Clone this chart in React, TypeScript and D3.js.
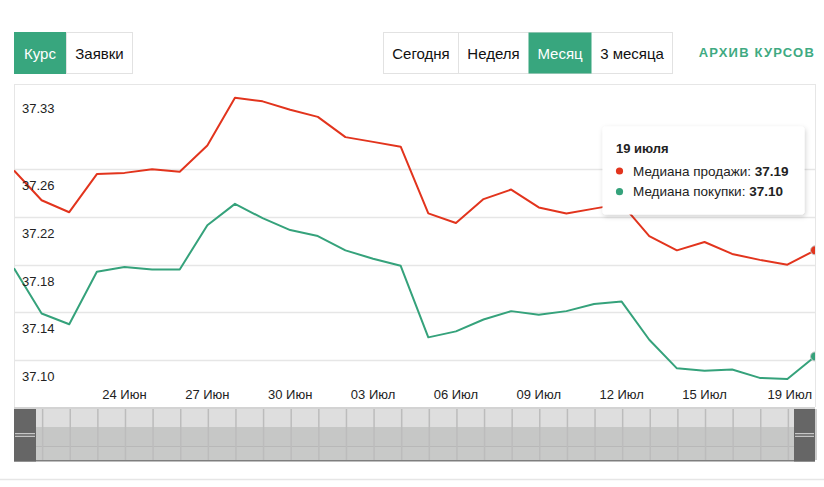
import React from "react";
import * as d3 from "d3";

// ---- Data ----
const startDate = new Date(2024, 5, 20);
const endDate = new Date(2024, 6, 19);
const dates: Date[] = d3.timeDay.range(startDate, d3.timeDay.offset(endDate, 1));

const sellMedian: number[] = [
  37.259, 37.234, 37.224, 37.256, 37.257, 37.26, 37.258, 37.28, 37.32, 37.317,
  37.31, 37.304, 37.287, 37.283, 37.279, 37.223, 37.215, 37.235, 37.243, 37.228,
  37.223, 37.227, 37.231, 37.204, 37.192, 37.199, 37.189, 37.184, 37.18, 37.192,
];
const buyMedian: number[] = [
  37.177, 37.139, 37.13, 37.174, 37.178, 37.176, 37.176, 37.213, 37.231, 37.219,
  37.209, 37.204, 37.192, 37.185, 37.179, 37.119, 37.124, 37.134, 37.141, 37.138,
  37.141, 37.147, 37.149, 37.117, 37.093, 37.091, 37.092, 37.085, 37.084, 37.103,
];

const seriesNames = ["Медиана продажи", "Медиана покупки"];
const seriesColors = ["#e2341d", "#35a27b"];

const yTickValues = [37.1, 37.14, 37.18, 37.22, 37.26, 37.325];
const yTickLabels = ["37.10", "37.14", "37.18", "37.22", "37.26", "37.33"];

const xTickDates: Date[] = [
  new Date(2024, 5, 24), new Date(2024, 5, 27), new Date(2024, 5, 30),
  new Date(2024, 6, 3), new Date(2024, 6, 6), new Date(2024, 6, 9),
  new Date(2024, 6, 12), new Date(2024, 6, 15), new Date(2024, 6, 19),
];
const monthShort = ["Янв", "Фев", "Мар", "Апр", "Май", "Июн", "Июл", "Авг", "Сен", "Окт", "Ноя", "Дек"];
const monthGen = ["января", "февраля", "марта", "апреля", "мая", "июня", "июля", "августа", "сентября", "октября", "ноября", "декабря"];

const leftTabs = ["Курс", "Заявки"];
const periodTabs = ["Сегодня", "Неделя", "Месяц", "3 месяца"];
const archiveLabel = "АРХИВ КУРСОВ";

// ---- Layout ----
const W = 824;
const H = 487;
const PL = 14, PR = 815, PT = 84, PB = 407;
const GREEN = "#38a67e";
const FONT = "'Liberation Sans', Arial, sans-serif";

export default function App() {
  const x = d3.scaleTime().domain([dates[0], dates[dates.length - 1]]).range([PL, PR]);
  const y = d3.scaleLinear().domain([37.1, 37.26]).range([360, 169.3]);

  const line = d3
    .line<number>()
    .x((_, i) => x(dates[i]))
    .y((v) => y(v));

  const series = [sellMedian, buyMedian];
  const last = dates.length - 1;
  const lastDate = dates[last];

  // left tab geometry
  const leftTabW = [52, 67];
  const periodW = [75, 70, 63, 81];
  let lx = 14;
  const leftTabX = leftTabW.map((w) => { const v = lx; lx += w; return v; });
  let px = 383.5;
  const periodX = periodW.map((w) => { const v = px; px += w; return v; });

  const navTop = 409, navBot = 461;

  return (
    <svg width={W} height={H} style={{ position: "absolute", left: 0, top: 0, background: "#fff" }} fontFamily={FONT}>
      <defs>
        <clipPath id="plotClip">
          <rect x={PL} y={PT} width={PR - PL} height={PB - PT} />
        </clipPath>
        <filter id="shadow" x="-20%" y="-20%" width="140%" height="150%">
          <feDropShadow dx="1" dy="2" stdDeviation="2.5" floodColor="#000" floodOpacity="0.18" />
        </filter>
      </defs>

      {/* Left tabs */}
      {leftTabs.map((t, i) => (
        <g key={t}>
          <rect x={leftTabX[i] + 0.5} y={32.5} width={leftTabW[i] - 1} height={41}
            fill={i === 0 ? GREEN : "#fff"} stroke={i === 0 ? GREEN : "#e2e2e2"} />
          <text x={leftTabX[i] + leftTabW[i] / 2} y={59} textAnchor="middle" fontSize={15}
            fill={i === 0 ? "#fff" : "#111"}>{t}</text>
        </g>
      ))}

      {/* Period tabs */}
      <rect x={383.5} y={32.5} width={px - 383.5} height={41} fill="#fff" stroke="#e2e2e2" />
      {periodTabs.map((t, i) => (
        <g key={t}>
          {i === 2 && <rect x={periodX[i]} y={32.5} width={periodW[i]} height={41} fill={GREEN} />}
          {i > 0 && i !== 2 && i !== 3 && (
            <line x1={periodX[i]} x2={periodX[i]} y1={32.5} y2={73.5} stroke="#e2e2e2" />
          )}
          <text x={periodX[i] + periodW[i] / 2} y={59} textAnchor="middle" fontSize={15}
            fill={i === 2 ? "#fff" : "#111"}>{t}</text>
        </g>
      ))}
      <text x={815} y={57} textAnchor="end" fontSize={13} fontWeight="bold" letterSpacing={1.2} fill="#3faa82">
        {archiveLabel}
      </text>

      {/* Plot frame */}
      <line x1={PL} x2={PR} y1={PT + 0.5} y2={PT + 0.5} stroke="#e6e6e6" />
      <line x1={PL + 0.5} x2={PL + 0.5} y1={PT} y2={PB} stroke="#e6e6e6" />
      <line x1={PR + 0.5} x2={PR + 0.5} y1={PT} y2={PB} stroke="#e6e6e6" />

      {/* Grid */}
      {yTickValues.slice(0, -1).map((v) => (
        <line key={v} x1={PL} x2={PR} y1={Math.round(y(v)) + 0.5} y2={Math.round(y(v)) + 0.5} stroke="#e6e6e6" strokeWidth={1.3} />
      ))}

      {/* Series */}
      <g clipPath="url(#plotClip)">
        {series.map((s, si) => (
          <path key={si} d={line(s) || ""} fill="none" stroke={seriesColors[si]} strokeWidth={2} strokeLinejoin="round" />
        ))}
        {series.map((s, si) => (
          <circle key={"m" + si} cx={x(lastDate)} cy={y(s[last])} r={4.5} fill={seriesColors[si]} stroke="#c8c8c8" strokeWidth={1} />
        ))}
      </g>

      {/* Y labels */}
      {yTickValues.map((v, i) => (
        <text key={v} x={22} y={y(v) + 21} fontSize={13} fill="#222">{yTickLabels[i]}</text>
      ))}

      {/* X labels */}
      {xTickDates.map((d, i) => {
        const isLast = i === xTickDates.length - 1;
        const label = d3.timeFormat("%d")(d) + " " + monthShort[d.getMonth()];
        return (
          <text key={i} x={isLast ? x(d) - 3 : x(d)} y={399} fontSize={13} fill="#222"
            textAnchor={isLast ? "end" : "middle"}>{label}</text>
        );
      })}

      {/* Navigator */}
      <line x1={PL} x2={PR} y1={PB + 1} y2={PB + 1} stroke="#c4c4c4" strokeWidth={1.5} />
      <rect x={PL} y={navTop} width={PR - PL} height={18} fill="#dedede" />
      <rect x={PL} y={navTop + 18} width={PR - PL} height={19} fill="#c6c7c6" />
      <line x1={PL} x2={PR} y1={446.5} y2={446.5} stroke="#b8b8b8" />
      <rect x={PL} y={447} width={PR - PL} height={13} fill="#c8c9c8" />
      <line x1={PL} x2={PR} y1={460.8} y2={460.8} stroke="#7e7e7e" strokeWidth={1.5} />
      {dates.map((d, i) => (
        <line key={i} x1={x(d) + 1} x2={x(d) + 1} y1={navTop} y2={460} stroke="#bcbcbc" strokeWidth={1.5} />
      ))}
      {[PL, PR - 21].map((hx, i) => (
        <g key={i}>
          <rect x={hx} y={navTop} width={i === 0 ? 22 : 21} height={navBot - navTop + 0.5} fill="#666" />
          <line x1={hx + 1} x2={hx + (i === 0 ? 21 : 20)} y1={433.7} y2={433.7} stroke="#ddd" strokeWidth={1} />
          <line x1={hx + 1} x2={hx + (i === 0 ? 21 : 20)} y1={436.3} y2={436.3} stroke="#ddd" strokeWidth={1} />
        </g>
      ))}

      {/* bottom separator */}
      <line x1={0} x2={W} y1={479.5} y2={479.5} stroke="#e6e6e6" strokeWidth={1.5} />

      {/* Tooltip */}
      <g>
        <rect x={602.5} y={126.5} width={202} height={88} rx={3} fill="#fff" filter="url(#shadow)" />
        <text x={616} y={153} fontSize={13} fontWeight="bold" fill="#222">
          {lastDate.getDate() + " " + monthGen[lastDate.getMonth()]}
        </text>
        {series.map((s, si) => (
          <g key={si}>
            <circle cx={619.5} cy={171 + si * 20.7} r={3.6} fill={seriesColors[si]} />
            <text x={633} y={175.5 + si * 20.7} fontSize={13.5} fill="#222">
              {seriesNames[si] + ": "}
              <tspan fontWeight="bold">{d3.format(".2f")(s[last])}</tspan>
            </text>
          </g>
        ))}
      </g>
    </svg>
  );
}
